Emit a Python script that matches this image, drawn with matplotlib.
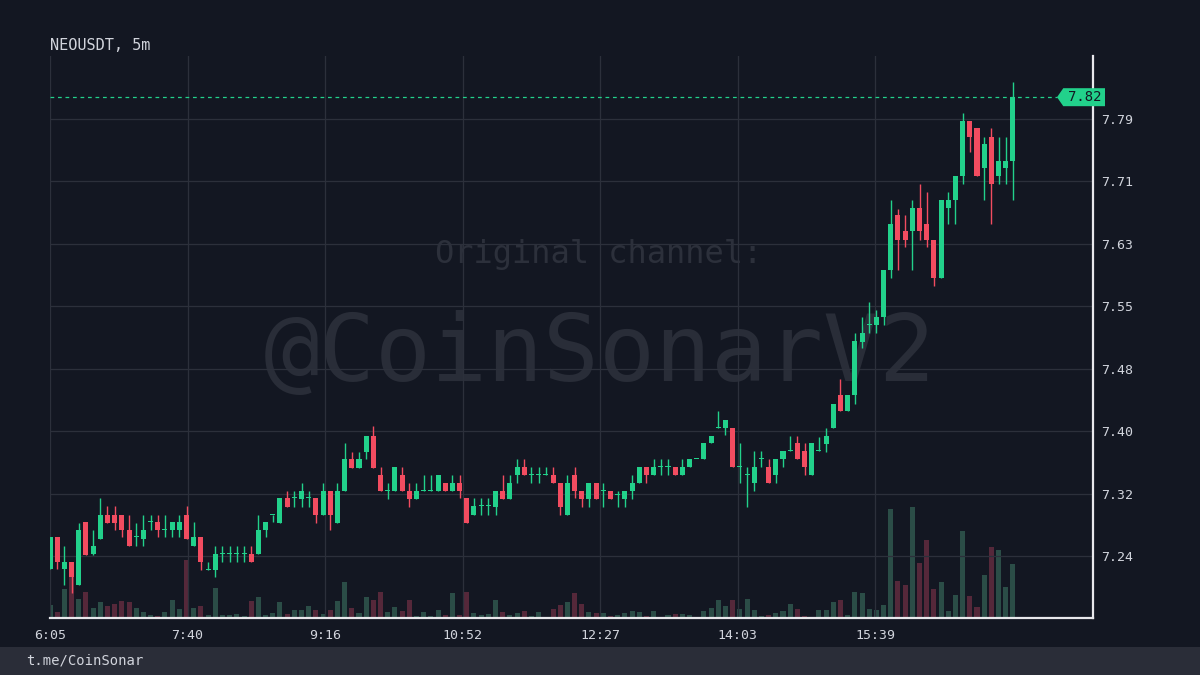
import numpy as np
import matplotlib
matplotlib.use("Agg")
import matplotlib.pyplot as plt
from matplotlib.patches import Polygon, Rectangle
from matplotlib.transforms import blended_transform_factory

# 5m candles, NEOUSDT
opens = [7.224, 7.264, 7.224, 7.233, 7.203, 7.283, 7.242, 7.262, 7.292, 7.292,
         7.292, 7.273, 7.264, 7.262, 7.283, 7.283, 7.273, 7.273, 7.273, 7.292,
         7.253, 7.264, 7.223, 7.223, 7.243, 7.243, 7.243, 7.243, 7.243, 7.242,
         7.273, 7.292, 7.282, 7.313, 7.313, 7.312, 7.313, 7.313, 7.292, 7.322,
         7.282, 7.322, 7.362, 7.351, 7.371, 7.391, 7.342, 7.322, 7.322, 7.342,
         7.322, 7.312, 7.322, 7.322, 7.322, 7.332, 7.322, 7.332, 7.313, 7.292,
         7.303, 7.303, 7.302, 7.322, 7.312, 7.342, 7.352, 7.342, 7.342, 7.342,
         7.342, 7.332, 7.292, 7.342, 7.322, 7.312, 7.332, 7.322, 7.322, 7.317,
         7.312, 7.322, 7.332, 7.352, 7.342, 7.352, 7.352, 7.352, 7.342, 7.352,
         7.362, 7.362, 7.382, 7.401, 7.401, 7.401, 7.352, 7.342, 7.332, 7.362,
         7.352, 7.342, 7.362, 7.372, 7.382, 7.372, 7.342, 7.372, 7.381, 7.401,
         7.442, 7.422, 7.442, 7.509, 7.530, 7.530, 7.540, 7.600, 7.669, 7.649,
         7.649, 7.678, 7.658, 7.638, 7.589, 7.678, 7.688, 7.718, 7.787, 7.778,
         7.728, 7.767, 7.718, 7.728, 7.737]
highs = [7.264, 7.264, 7.253, 7.233, 7.282, 7.283, 7.273, 7.313, 7.303, 7.303,
         7.292, 7.292, 7.282, 7.292, 7.292, 7.292, 7.292, 7.283, 7.292, 7.303,
         7.283, 7.264, 7.232, 7.253, 7.253, 7.253, 7.253, 7.253, 7.253, 7.292,
         7.283, 7.292, 7.313, 7.322, 7.322, 7.332, 7.322, 7.313, 7.332, 7.322,
         7.332, 7.382, 7.371, 7.371, 7.391, 7.403, 7.352, 7.332, 7.352, 7.352,
         7.332, 7.332, 7.342, 7.342, 7.342, 7.332, 7.342, 7.342, 7.313, 7.313,
         7.313, 7.313, 7.322, 7.342, 7.342, 7.362, 7.362, 7.352, 7.352, 7.352,
         7.352, 7.332, 7.342, 7.352, 7.322, 7.332, 7.332, 7.332, 7.322, 7.322,
         7.322, 7.342, 7.352, 7.352, 7.362, 7.362, 7.362, 7.352, 7.362, 7.362,
         7.362, 7.382, 7.391, 7.422, 7.411, 7.401, 7.382, 7.352, 7.372, 7.372,
         7.362, 7.362, 7.372, 7.391, 7.391, 7.382, 7.382, 7.390, 7.401, 7.431,
         7.463, 7.442, 7.520, 7.540, 7.559, 7.549, 7.600, 7.688, 7.677, 7.669,
         7.688, 7.708, 7.698, 7.638, 7.688, 7.698, 7.718, 7.797, 7.787, 7.778,
         7.767, 7.778, 7.767, 7.767, 7.836]
lows = [7.224, 7.224, 7.204, 7.194, 7.203, 7.241, 7.241, 7.262, 7.282, 7.273,
        7.264, 7.252, 7.253, 7.253, 7.273, 7.264, 7.264, 7.264, 7.264, 7.262,
        7.253, 7.223, 7.223, 7.214, 7.232, 7.232, 7.232, 7.232, 7.232, 7.242,
        7.264, 7.283, 7.282, 7.302, 7.302, 7.302, 7.302, 7.282, 7.292, 7.273,
        7.282, 7.322, 7.351, 7.351, 7.362, 7.351, 7.322, 7.312, 7.322, 7.322,
        7.302, 7.312, 7.322, 7.322, 7.322, 7.322, 7.322, 7.313, 7.282, 7.292,
        7.292, 7.292, 7.292, 7.312, 7.312, 7.332, 7.342, 7.332, 7.332, 7.342,
        7.332, 7.292, 7.292, 7.313, 7.302, 7.302, 7.312, 7.302, 7.312, 7.302,
        7.302, 7.312, 7.332, 7.332, 7.342, 7.342, 7.342, 7.342, 7.342, 7.352,
        7.362, 7.362, 7.382, 7.401, 7.392, 7.352, 7.332, 7.302, 7.322, 7.352,
        7.332, 7.332, 7.352, 7.372, 7.362, 7.342, 7.342, 7.372, 7.371, 7.401,
        7.422, 7.422, 7.431, 7.501, 7.520, 7.520, 7.530, 7.589, 7.600, 7.629,
        7.600, 7.638, 7.628, 7.580, 7.589, 7.658, 7.658, 7.708, 7.748, 7.718,
        7.688, 7.658, 7.708, 7.708, 7.688]
closes = [7.264, 7.232, 7.233, 7.213, 7.273, 7.241, 7.253, 7.292, 7.282, 7.282,
          7.273, 7.252, 7.264, 7.273, 7.283, 7.273, 7.273, 7.283, 7.283, 7.262,
          7.264, 7.232, 7.224, 7.243, 7.243, 7.243, 7.243, 7.243, 7.232, 7.273,
          7.283, 7.292, 7.313, 7.302, 7.313, 7.322, 7.313, 7.292, 7.322, 7.292,
          7.322, 7.362, 7.351, 7.362, 7.391, 7.351, 7.322, 7.322, 7.352, 7.322,
          7.312, 7.322, 7.322, 7.322, 7.342, 7.322, 7.332, 7.322, 7.282, 7.303,
          7.303, 7.303, 7.322, 7.312, 7.332, 7.352, 7.342, 7.342, 7.342, 7.342,
          7.332, 7.302, 7.332, 7.322, 7.312, 7.332, 7.312, 7.322, 7.312, 7.317,
          7.322, 7.332, 7.352, 7.342, 7.352, 7.352, 7.352, 7.342, 7.352, 7.362,
          7.362, 7.382, 7.391, 7.401, 7.411, 7.352, 7.352, 7.342, 7.352, 7.362,
          7.332, 7.362, 7.372, 7.372, 7.362, 7.352, 7.382, 7.372, 7.391, 7.431,
          7.422, 7.442, 7.510, 7.520, 7.530, 7.540, 7.600, 7.658, 7.638, 7.638,
          7.678, 7.649, 7.638, 7.589, 7.688, 7.688, 7.718, 7.787, 7.767, 7.718,
          7.758, 7.708, 7.737, 7.737, 7.817]
volumes = [13, 6, 29, 41, 19, 26, 10, 16, 12, 14,
           17, 16, 10, 6, 3, 2, 6, 18, 9, 58,
           10, 12, 3, 30, 3, 3, 4, 2, 17, 21,
           3, 5, 16, 4, 8, 8, 12, 8, 4, 8,
           17, 36, 10, 5, 21, 18, 26, 6, 11, 7,
           18, 2, 6, 2, 8, 3, 25, 3, 26, 5,
           3, 4, 18, 6, 3, 5, 7, 2, 6, 1,
           9, 13, 16, 25, 14, 6, 5, 5, 2, 3,
           5, 7, 6, 2, 7, 1, 3, 4, 4, 3,
           1, 7, 10, 18, 12, 18, 9, 19, 8, 2,
           3, 5, 7, 14, 9, 2, 1, 8, 8, 16,
           18, 3, 26, 25, 9, 8, 13, 109, 37, 33,
           111, 55, 78, 29, 36, 7, 23, 87, 22, 11,
           43, 71, 68, 31, 54]

time_labels = ["6:05", "7:40", "9:16", "10:52", "12:27", "14:03", "15:39"]
price_labels = ["7.24", "7.32", "7.40", "7.48", "7.55", "7.63", "7.71", "7.79"]
last_price_label = "7.82"

BG = "#131722"
GRID = "#2c303b"
TXT = "#d1d4dc"
UP = "#22d18b"
DOWN = "#f24c60"
UP_VOL = "#2b4d47"
DOWN_VOL = "#55283a"
MONO = "DejaVu Sans Mono"

o = np.array(opens)
h = np.array(highs)
l = np.array(lows)
c = np.array(closes)
v = np.array(volumes)
x = np.arange(len(o))
up = c >= o

fig = plt.figure(figsize=(12, 6.75), dpi=100, facecolor=BG)
ax = fig.add_axes([50 / 1200, 57 / 675, 1043 / 1200, 562 / 675])
ax.set_facecolor(BG)

# volume pane on the same x, bars take up the lower fifth
axv = ax.twinx()
axv.set_ylim(0, v.max() * 562 / 111)
axv.bar(x, v, width=0.7, color=np.where(up, UP_VOL, DOWN_VOL), linewidth=0, zorder=1)
axv.set_yticks([])
for s in axv.spines.values():
    s.set_visible(False)
ax.set_zorder(axv.get_zorder() + 1)
ax.patch.set_visible(False)
axv.set_facecolor(BG)

# watermark
ax.text(0.526, 0.646, "Original channel:", transform=ax.transAxes, ha="center",
        va="center", fontsize=23, color="#2c303b", family=MONO, zorder=0)
ax.text(0.527, 0.468, "@CoinSonarV2", transform=ax.transAxes, ha="center",
        va="center", fontsize=67, color="#292d38", family=MONO, zorder=0)

cols = np.where(up, UP, DOWN)
ax.vlines(x, l, h, colors=cols, linewidth=1.0, zorder=3)
body = np.maximum(np.abs(c - o), 0.0012)
ax.bar(x, body, bottom=np.minimum(o, c), width=0.7, color=cols, linewidth=0, zorder=4)

px_per_candle = 137.5 / (95.67 / 5)
ax.set_xlim(0, 1043 / px_per_candle)
ax.set_ylim(7.24 - 62 * 0.0012576, 7.24 + 500 * 0.0012576)

ax.set_xticks(np.arange(len(time_labels)) * 95.67 / 5)
ax.set_xticklabels(time_labels)
yt = np.linspace(7.24, 7.79, len(price_labels))
ax.set_yticks(yt)
ax.set_yticklabels(price_labels)
ax.yaxis.tick_right()
ax.tick_params(axis="both", length=0, colors=TXT, labelsize=9.5)
ax.tick_params(axis="x", pad=8)
ax.tick_params(axis="y", pad=6)
for lab in ax.get_xticklabels() + ax.get_yticklabels():
    lab.set_family(MONO)
ax.grid(True, color=GRID, linewidth=0.9)
ax.set_axisbelow(True)

for side in ("top", "left"):
    ax.spines[side].set_visible(False)
for side in ("right", "bottom"):
    ax.spines[side].set_color("#e8e8ec")
    ax.spines[side].set_linewidth(1.6)

# last price line and tag
last = c[-1]
ax.axhline(last, xmax=0.9655, color=UP, linewidth=0.9, linestyle=(0, (3, 3)), zorder=2)
tr = blended_transform_factory(ax.transAxes, ax.transData)
dy = 9 * 0.0012576
tag = Polygon([[0.9655, last], [0.9715, last + dy], [1.0115, last + dy],
               [1.0115, last - dy], [0.9715, last - dy]],
              closed=True, transform=tr, facecolor=UP, edgecolor="none",
              clip_on=False, zorder=6)
ax.add_patch(tag)
ax.text(0.9925, last, last_price_label, transform=tr, ha="center", va="center",
        fontsize=10, color=BG, family=MONO, zorder=7, clip_on=False)

fig.text(50 / 1200, 1 - 45 / 675, "NEOUSDT, 5m", ha="left", va="center",
         fontsize=11, color=TXT, family=MONO)

fig.patches.append(Rectangle((0, 0), 1, 28 / 675, transform=fig.transFigure,
                             facecolor="#2a2d38", edgecolor="none", zorder=0))
fig.text(26 / 1200, 14 / 675, "t.me/CoinSonar", ha="left", va="center",
         fontsize=10, color=TXT, family=MONO)

fig.savefig("out.png", dpi=100, facecolor=BG)
